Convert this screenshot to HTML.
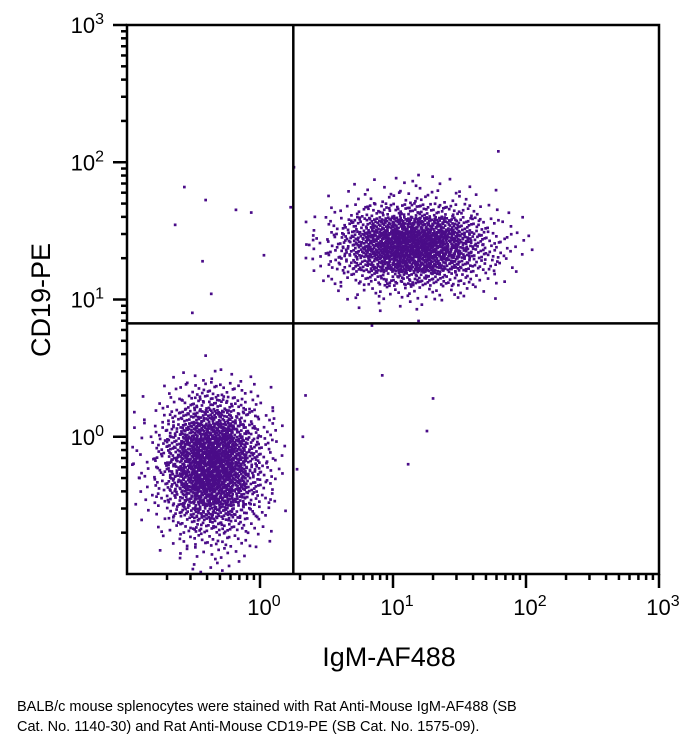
<!DOCTYPE html>
<html><head><meta charset="utf-8"><style>
html,body{margin:0;padding:0;background:#fff;}
body{width:686px;height:747px;overflow:hidden;font-family:"Liberation Sans",sans-serif;}
#cap{position:absolute;left:17px;top:697px;font-size:14.5px;line-height:20px;color:#000;}
</style></head><body>
<svg id="chart" width="686" height="690" style="position:absolute;left:0;top:0" xmlns="http://www.w3.org/2000/svg"></svg>
<div id="cap">BALB/c mouse splenocytes were stained with Rat Anti-Mouse IgM-AF488 (SB<br>Cat. No. 1140-30) and Rat Anti-Mouse CD19-PE (SB Cat. No. 1575-09).</div>
<script>
// ---- data ----
const xDecades=[0,1,2,3];
const yDecades=[0,1,2,3];
const gateX=1.78;   // IgM gate value
const gateY=6.7;    // CD19 gate value
// lower-left population density grid (log10 bins, step 0.1)
const lowXBins=[-0.95,-0.85,-0.75,-0.65,-0.55,-0.45,-0.35,-0.25,-0.15,-0.05,0.05,0.15];
const lowYBins=[0.45,0.35,0.25,0.15,0.05,-0.05,-0.15,-0.25,-0.35,-0.45,-0.55,-0.65,-0.75,-0.85,-0.95];
const lowCounts=[
[0,0,0,1,1,2,2,2,1,1,0,0],
[0,0,1,2,4,6,7,6,4,2,1,0],
[0,1,2,4,9,13,14,12,8,4,2,0],
[1,1,3,9,16,23,26,22,15,8,3,1],
[1,2,5,13,25,36,40,35,22,11,5,2],
[1,2,7,18,33,48,54,47,30,15,6,2],
[2,3,8,20,38,55,60,52,34,17,6,2],
[2,3,8,20,38,55,60,52,34,17,6,2],
[1,2,7,18,33,48,54,47,30,15,6,1],
[1,2,5,13,25,36,40,35,22,11,5,1],
[0,1,3,9,16,23,26,22,15,8,3,1],
[0,1,2,4,9,13,14,12,8,4,2,0],
[0,0,1,2,4,6,7,6,4,2,1,0],
[0,0,1,1,2,3,3,3,2,1,0,0],
[0,0,0,1,1,2,2,2,1,0,0,0]];
// upper-right population density grid
const upXBins=[0.35,0.45,0.55,0.65,0.75,0.85,0.95,1.05,1.15,1.25,1.35,1.45,1.55,1.65,1.75,1.85,1.95,2.05];
const upYBins=[1.95,1.85,1.75,1.65,1.55,1.45,1.35,1.25,1.15,1.05,0.95,0.85];
const upCounts=[
[0,0,0,0,0,0,0,0,1,0,0,0,0,0,0,0,0,0],
[0,0,0,0,1,1,1,2,2,2,1,1,1,0,0,0,0,0],
[0,0,1,1,2,3,3,4,4,4,3,3,2,1,1,0,0,0],
[0,1,2,3,6,9,12,13,14,13,12,9,6,3,2,1,0,0],
[1,2,4,9,15,23,30,34,36,34,30,23,15,9,4,2,1,0],
[2,3,7,14,24,36,46,54,57,54,46,36,24,14,7,4,2,1],
[2,3,7,14,25,37,49,57,60,57,49,37,25,14,7,4,2,1],
[1,2,6,10,17,25,33,39,41,39,33,25,17,10,6,3,1,0],
[0,1,3,4,7,11,14,17,18,17,14,11,7,4,3,1,0,0],
[0,0,1,2,3,3,4,4,5,4,4,3,3,2,1,0,0,0],
[0,0,0,0,1,1,1,1,2,1,1,0,0,0,0,0,0,0],
[0,0,0,0,0,1,0,0,1,0,0,0,0,0,0,0,0,0]];
// scattered events (linear values)
const outX=[0.27,0.39,0.23,0.66,0.86,0.37,0.43,0.31,1.07,1.7,1.8,2.2,8.3,20,18,13,0.39,62,2.1,1.9];
const outY=[66,53,35,45,43,19,11,8,21,47,92,2.0,2.8,1.9,1.1,0.63,3.9,120,1.0,0.58];

// ---- axes ----
const L=127,R=659,T=25,B=574;
const xMin=-1,xMax=3,yMin=-1,yMax=3;
function xs(lg){return L+(lg-xMin)/(xMax-xMin)*(R-L);}
function ys(lg){return B-(lg-yMin)/(yMax-yMin)*(B-T);}
const svg=document.getElementById('chart');
const NS='http://www.w3.org/2000/svg';
function mk(tag,attrs){const e=document.createElementNS(NS,tag);for(const k in attrs)e.setAttribute(k,attrs[k]);svg.appendChild(e);return e;}
function halton(i,b){let f=1,r=0;while(i>0){f/=b;r+=f*(i%b);i=Math.floor(i/b);}return r;}
const DS=2.7;
const dots=document.createElementNS(NS,'g');


dots.setAttribute('fill','#4a0c88');
svg.appendChild(dots);
let seq=1;
function drawGrid(xb,yb,counts,name){
  for(let r=0;r<yb.length;r++)for(let c=0;c<xb.length;c++){
    const n=counts[r][c];
    for(let k=0;k<n;k++){
      const lx=xb[c]-0.05+0.1*halton(seq,2);
      const ly=yb[r]-0.05+0.1*halton(seq,3);
      seq++;
      const px=xs(lx),py=ys(ly);
      if(px<L+1||py>B-1)continue;
      const d=document.createElementNS(NS,'rect');
      d.setAttribute('x',(px-DS/2).toFixed(1));d.setAttribute('y',(py-DS/2).toFixed(1));
      d.setAttribute('width',DS);d.setAttribute('height',DS);
      
      
      dots.appendChild(d);
    }
  }
}
drawGrid(lowXBins,lowYBins,lowCounts,'cd19-neg-event');
drawGrid(upXBins,upYBins,upCounts,'b-cell-event');
for(let i=0;i<outX.length;i++){
  const d=document.createElementNS(NS,'rect');
  d.setAttribute('x',(xs(Math.log10(outX[i]))-DS/2).toFixed(1));
  d.setAttribute('y',(ys(Math.log10(outY[i]))-DS/2).toFixed(1));
  d.setAttribute('width',DS);d.setAttribute('height',DS);
  
  
  dots.appendChild(d);
}

// frame
const fr=mk('rect',{x:L,y:T,width:R-L,height:B-T,fill:'none',stroke:'#000','stroke-width':2.5});


// quadrant lines
const gv=mk('line',{x1:xs(Math.log10(gateX)),x2:xs(Math.log10(gateX)),y1:T,y2:B,stroke:'#000','stroke-width':2.5});


const gh=mk('line',{x1:L,x2:R,y1:ys(Math.log10(gateY)),y2:ys(Math.log10(gateY)),stroke:'#000','stroke-width':2.5});



// ticks
for(let d=-1;d<3;d++){
  for(let m=1;m<=9;m++){
    const lg=d+Math.log10(m);
    if(m===1&&d===-1)continue;
    const len=m===1?14:6;
    const tx=mk('line',{x1:xs(lg),x2:xs(lg),y1:B,y2:B+len,stroke:'#000','stroke-width':2.5});
    
    
    const ty=mk('line',{x1:L,x2:L-len,y1:ys(lg),y2:ys(lg),stroke:'#000','stroke-width':2.5});
    
    
  }
}
[3].forEach(lg=>{
  const tx=mk('line',{x1:xs(lg),x2:xs(lg),y1:B,y2:B+14,stroke:'#000','stroke-width':2.5});
  
  
  const ty=mk('line',{x1:L,x2:L-14,y1:ys(lg),y2:ys(lg),stroke:'#000','stroke-width':2.5});
  
  
});
function powLabel(x,y,exp,anchor,name){
  const t=mk('text',{x:x,y:y,'font-size':22,'text-anchor':anchor,fill:'#000','font-family':'Liberation Sans, sans-serif'});
  
  
  const a=document.createElementNS(NS,'tspan');a.textContent='10';t.appendChild(a);
  const b=document.createElementNS(NS,'tspan');b.setAttribute('dy','-9');b.setAttribute('font-size','16');b.textContent=String(exp);t.appendChild(b);
}
xDecades.forEach(d=>powLabel(xs(d)+4,615,d,'middle','x-tick-label'));
yDecades.forEach(d=>powLabel(104,ys(d)+8,d,'end','y-tick-label'));

const xt=mk('text',{x:389,y:666,'font-size':27,'text-anchor':'middle',fill:'#000'});
xt.textContent='IgM-AF488';


const yt=mk('text',{x:0,y:0,'font-size':27,'text-anchor':'middle',fill:'#000',transform:'translate(50,300) rotate(-90)'});
yt.textContent='CD19-PE';


</script>
</body></html>
